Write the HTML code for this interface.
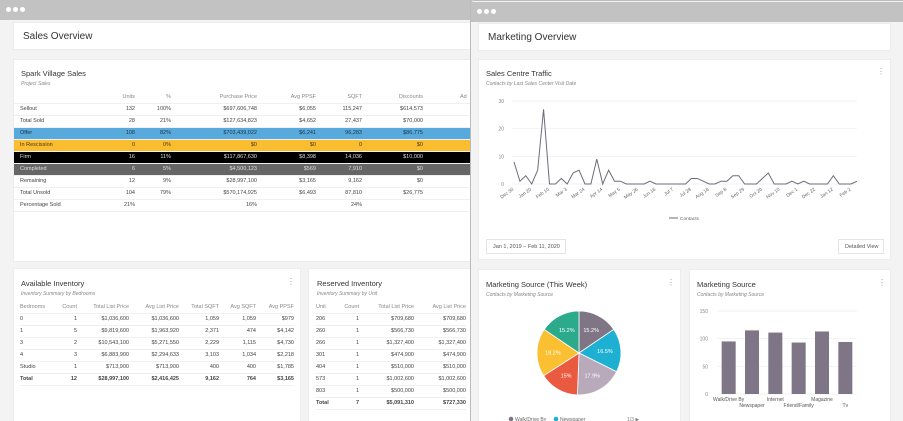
<!DOCTYPE html>
<html><head><meta charset="utf-8"><style>
*{box-sizing:border-box;margin:0;padding:0}
body{width:903px;height:421px;overflow:hidden;background:#fff;font-family:"Liberation Sans",sans-serif;position:relative;color:#333}
.win{position:absolute;background:#f3f3f3;overflow:hidden}
.bar{position:absolute;left:0;right:0;top:0;height:20px;background:#c2c2c2}
.dot{position:absolute;top:7px;width:5px;height:5px;border-radius:50%;background:#fff}
.card{position:absolute;background:#fff;border:1px solid #ececec;overflow:hidden}
.abs{position:absolute;white-space:nowrap}
.t{font-size:7.5px;color:#333}
.s{font-size:5px;color:#888;font-style:italic}
.h{font-size:10px;color:#333}
table{position:absolute;border-collapse:collapse;font-size:5.5px;color:#444;table-layout:fixed}
td,th{height:12px;padding:0;font-weight:normal;white-space:nowrap;overflow:visible;border-bottom:1px solid #f0f0f0}
th{color:#888}
.r{text-align:right}
.keb{position:absolute;font-size:8px;color:#999}
</style></head><body>

<div class="win" style="left:0;top:0;width:472px;height:421px">
 <div class="bar"></div>
 <div class="dot" style="left:6px"></div><div class="dot" style="left:13px"></div><div class="dot" style="left:20px"></div>
 <div class="card" style="left:13px;top:22px;width:470px;height:28px"><div class="abs h" style="left:9px;top:8px">Sales Overview</div></div>
 <div class="card" style="left:13px;top:59px;width:470px;height:203px">
  <div class="abs t" style="left:7px;top:9px">Spark Village Sales</div>
  <div class="abs s" style="left:7px;top:21px">Project Sales</div>
  <table style="left:0px;top:31px;width:469px">
   <colgroup><col style="width:6px"><col style="width:75px"><col style="width:40px"><col style="width:36px"><col style="width:86px"><col style="width:59px"><col style="width:46px"><col style="width:61px"><col style="width:60px"></colgroup>
   <tr><th></th><th></th><th class="r">Units</th><th class="r">%</th><th class="r">Purchase Price</th><th class="r">Avg PPSF</th><th class="r">SQFT</th><th class="r">Discounts</th><th style="text-align:left;padding-left:37px">Ad</th></tr>
   <tr><td></td><td>Sellout</td><td class="r">132</td><td class="r">100%</td><td class="r">$697,606,748</td><td class="r">$6,055</td><td class="r">115,247</td><td class="r">$614,573</td><td></td></tr>
   <tr><td></td><td>Total Sold</td><td class="r">28</td><td class="r">21%</td><td class="r">$127,634,823</td><td class="r">$4,652</td><td class="r">27,437</td><td class="r">$70,000</td><td></td></tr>
   <tr style="background:#58a9dc;color:#234"><td></td><td>Offer</td><td class="r">108</td><td class="r">82%</td><td class="r">$703,439,022</td><td class="r">$6,241</td><td class="r">96,283</td><td class="r">$86,775</td><td></td></tr>
   <tr style="background:#fbbd30;color:#432"><td></td><td>In Rescission</td><td class="r">0</td><td class="r">0%</td><td class="r">$0</td><td class="r">$0</td><td class="r">0</td><td class="r">$0</td><td></td></tr>
   <tr style="background:#000;color:#ddd"><td></td><td>Firm</td><td class="r">16</td><td class="r">11%</td><td class="r">$117,867,630</td><td class="r">$8,398</td><td class="r">14,036</td><td class="r">$10,000</td><td></td></tr>
   <tr style="background:#666;color:#ddd"><td></td><td>Completed</td><td class="r">6</td><td class="r">5%</td><td class="r">$4,500,123</td><td class="r">$569</td><td class="r">7,910</td><td class="r">$0</td><td></td></tr>
   <tr><td></td><td>Remaining</td><td class="r">12</td><td class="r">9%</td><td class="r">$28,997,100</td><td class="r">$3,165</td><td class="r">9,162</td><td class="r">$0</td><td></td></tr>
   <tr><td></td><td>Total Unsold</td><td class="r">104</td><td class="r">79%</td><td class="r">$570,174,925</td><td class="r">$6,493</td><td class="r">87,810</td><td class="r">$26,775</td><td></td></tr>
   <tr><td></td><td>Percentage Sold</td><td class="r">21%</td><td></td><td class="r">16%</td><td></td><td class="r">24%</td><td></td><td></td></tr>
  </table>
 </div>
 <div class="card" style="left:13px;top:268px;width:288px;height:160px">
  <div class="abs t" style="left:7px;top:10px">Available Inventory</div>
  <div class="keb" style="left:273px;top:8px">⋮</div>
  <div class="abs s" style="left:7px;top:22px">Inventory Summary by Bedrooms</div>
  <table style="left:6px;top:32px;width:274px">
   <colgroup><col style="width:30px"><col style="width:27px"><col style="width:52px"><col style="width:50px"><col style="width:40px"><col style="width:37px"><col style="width:38px"></colgroup>
   <tr><th style="text-align:left">Bedrooms</th><th class="r">Count</th><th class="r">Total List Price</th><th class="r">Avg List Price</th><th class="r">Total SQFT</th><th class="r">Avg SQFT</th><th class="r">Avg PPSF</th></tr>
   <tr><td>0</td><td class="r">1</td><td class="r">$1,036,600</td><td class="r">$1,036,600</td><td class="r">1,059</td><td class="r">1,059</td><td class="r">$979</td></tr>
   <tr><td>1</td><td class="r">5</td><td class="r">$9,819,600</td><td class="r">$1,963,920</td><td class="r">2,371</td><td class="r">474</td><td class="r">$4,142</td></tr>
   <tr><td>3</td><td class="r">2</td><td class="r">$10,543,100</td><td class="r">$5,271,550</td><td class="r">2,229</td><td class="r">1,115</td><td class="r">$4,730</td></tr>
   <tr><td>4</td><td class="r">3</td><td class="r">$6,883,900</td><td class="r">$2,294,633</td><td class="r">3,103</td><td class="r">1,034</td><td class="r">$2,218</td></tr>
   <tr><td>Studio</td><td class="r">1</td><td class="r">$713,900</td><td class="r">$713,900</td><td class="r">400</td><td class="r">400</td><td class="r">$1,785</td></tr>
   <tr><td><b>Total</b></td><td class="r"><b>12</b></td><td class="r"><b>$28,997,100</b></td><td class="r"><b>$2,416,425</b></td><td class="r"><b>9,162</b></td><td class="r"><b>764</b></td><td class="r"><b>$3,165</b></td></tr>
  </table>
 </div>
 <div class="card" style="left:308px;top:268px;width:180px;height:160px">
  <div class="abs t" style="left:8px;top:10px">Reserved Inventory</div>
  <div class="abs s" style="left:8px;top:22px">Inventory Summary by Unit</div>
  <table style="left:7px;top:32px;width:150px">
   <colgroup><col style="width:20px"><col style="width:23px"><col style="width:55px"><col style="width:52px"></colgroup>
   <tr><th style="text-align:left">Unit</th><th class="r">Count</th><th class="r">Total List Price</th><th class="r">Avg List Price</th></tr>
   <tr><td>206</td><td class="r">1</td><td class="r">$709,680</td><td class="r">$709,680</td></tr>
   <tr><td>260</td><td class="r">1</td><td class="r">$566,730</td><td class="r">$566,730</td></tr>
   <tr><td>266</td><td class="r">1</td><td class="r">$1,327,400</td><td class="r">$1,327,400</td></tr>
   <tr><td>301</td><td class="r">1</td><td class="r">$474,900</td><td class="r">$474,900</td></tr>
   <tr><td>404</td><td class="r">1</td><td class="r">$510,000</td><td class="r">$510,000</td></tr>
   <tr><td>573</td><td class="r">1</td><td class="r">$1,002,600</td><td class="r">$1,002,600</td></tr>
   <tr><td>803</td><td class="r">1</td><td class="r">$500,000</td><td class="r">$500,000</td></tr>
   <tr><td><b>Total</b></td><td class="r"><b>7</b></td><td class="r"><b>$5,091,310</b></td><td class="r"><b>$727,330</b></td></tr>
  </table>
 </div>
</div>

<div class="win" style="left:470px;top:0;width:433px;height:421px;border-left:1px solid #bbb;border-top:1px solid #bbb;border-radius:4px 0 0 0">
 <div class="bar" style="top:1px"></div>
 <div class="dot" style="left:6px;top:8px"></div><div class="dot" style="left:13px;top:8px"></div><div class="dot" style="left:20px;top:8px"></div>
 <div class="card" style="left:7px;top:22px;width:413px;height:28px"><div class="abs h" style="left:9px;top:8px">Marketing Overview</div></div>
 <div class="card" style="left:7px;top:58px;width:413px;height:201px">
  <div class="abs t" style="left:7px;top:9px">Sales Centre Traffic</div>
  <div class="keb" style="left:398px;top:7px">⋮</div>
  <div class="abs s" style="left:7px;top:21px">Contacts by Last Sales Center Visit Date</div>
  <div class="abs" style="left:7px;top:179px;width:80px;height:15px;border:1px solid #e4e4e4;font-size:5.5px;color:#555;padding:4px 0 0 6px">Jan 1, 2019 – Feb 11, 2020</div>
  <div class="abs" style="left:359px;top:179px;width:46px;height:15px;border:1px solid #e4e4e4;font-size:5.5px;color:#555;padding:4px 0 0 6px">Detailed View</div>
 </div>
 <div class="card" style="left:7px;top:268px;width:203px;height:160px">
  <div class="abs t" style="left:7px;top:10px">Marketing Source (This Week)</div>
  <div class="keb" style="left:188px;top:8px">⋮</div>
  <div class="abs s" style="left:7px;top:22px">Contacts by Marketing Source</div>
 </div>
 <div class="card" style="left:218px;top:268px;width:202px;height:160px">
  <div class="abs t" style="left:7px;top:10px">Marketing Source</div>
  <div class="keb" style="left:188px;top:8px">⋮</div>
  <div class="abs s" style="left:7px;top:22px">Contacts by Marketing Source</div>
 </div>
</div>

<svg id="charts" width="903" height="421" style="position:absolute;left:0;top:0" font-family="Liberation Sans, sans-serif"></svg>

<script>
const lineValues=[8,1,3,0,5,27,0,0,2,0,4,5,0,0,9,0,5,1,1,0,0,0,0,1,0,0,0,0,0,0,2,2,1,0,0,1,1,3,3,0,0,0,2,4,0,0,0,1,0,1,0,0,0,0,3,0,0,0,1];
const lineTicks=[0,10,20,30];
const dateLabels=["Dec 30","Jan 20","Feb 10","Mar 3","Mar 24","Apr 14","May 5","May 26","Jun 16","Jul 7","Jul 28","Aug 18","Sep 8","Sep 29","Oct 20","Nov 10","Dec 1","Dec 22","Jan 12","Feb 2"];
const pieLabels=["Walk/Drive By","Newspaper","Internet","Friend/Family","Magazine","Tv"];
const pieValues=[15.2,16.5,17.9,15,18.2,15.2];
const pieColors=["#7f7585","#1eb0d2","#b8a9bb","#ea5a41","#fbbf32","#2baa8c"];
const barCategories=["Walk/Drive By","Newspaper","Internet","Friend/Family","Magazine","Tv"];
const barValues=[95,115,111,93,113,94];
const barTicks=[0,50,100,150];

const svg=document.getElementById('charts');
const NS='http://www.w3.org/2000/svg';
function mk(tag,attrs,parent){const e=document.createElementNS(NS,tag);for(const k in attrs)e.setAttribute(k,attrs[k]);(parent||svg).appendChild(e);return e;}

const lx0=514,lx1=857,ly0=184,ly1=101;
const lxs=i=>lx0+(lx1-lx0)*i/(lineValues.length-1);
const lys=v=>ly0-(ly0-ly1)*v/30;
lineTicks.forEach(t=>{
 const g=mk('line',{x1:lx0-2,x2:lx1,y1:lys(t),y2:lys(t),stroke:'#eee','stroke-width':0.7});
 
 
 const tx=mk('text',{x:lx0-10,y:lys(t)+2,'font-size':5,fill:'#888','text-anchor':'end'});tx.textContent=t;
 
 
});
dateLabels.forEach((d,i)=>{
 const x=lxs(i*3);
 const tx=mk('text',{x:x,y:ly0+6,'font-size':4.8,fill:'#666','text-anchor':'end',transform:`rotate(-35 ${x} ${ly0+6})`});tx.textContent=d;
 
 
});
const pl=mk('polyline',{points:lineValues.map((v,i)=>lxs(i)+','+lys(v)).join(' '),fill:'none',stroke:'#6f6a7a','stroke-width':1});


mk('line',{x1:669,x2:678,y1:218,y2:218,stroke:'#6f6a7a','stroke-width':1});
const lg=mk('text',{x:680,y:220,'font-size':4.8,fill:'#666'});lg.textContent='Contacts';



const cx=579,cy=353,R=42;
const tot=pieValues.reduce((a,b)=>a+b,0);
let a=-Math.PI/2;
pieValues.forEach((v,i)=>{
 const da=v/tot*2*Math.PI,a2=a+da;
 const p=mk('path',{d:`M${cx},${cy}L${cx+R*Math.cos(a)},${cy+R*Math.sin(a)}A${R},${R} 0 ${da>Math.PI?1:0} 1 ${cx+R*Math.cos(a2)},${cy+R*Math.sin(a2)}Z`,fill:pieColors[i],stroke:'#fff','stroke-width':0.8});
 
 
 const m=(a+a2)/2;
 const t=mk('text',{x:cx+R*0.62*Math.cos(m),y:cy+R*0.62*Math.sin(m)+2,'font-size':5.5,fill:'#fff','text-anchor':'middle'});t.textContent=(v%1?v.toFixed(1):v)+'%';
 
 
 a=a2;
});
[[0,511],[1,556]].forEach(([i,x])=>{
 mk('circle',{cx:x,cy:419,r:2.3,fill:pieColors[i]});
 const t=mk('text',{x:x+4,y:421,'font-size':5,fill:'#666'});t.textContent=pieLabels[i];
 
 
});
const pg=mk('text',{x:627,y:421,'font-size':5,fill:'#888'});pg.textContent='1/3 ▶';

const bx0=717,bx1=857,by0=394,by1=311;
const bys=v=>by0-(by0-by1)*v/150;
const bw=(bx1-bx0)/barValues.length;
barTicks.forEach(t=>{
 const g=mk('line',{x1:bx0,x2:bx1,y1:bys(t),y2:bys(t),stroke:'#eee','stroke-width':0.7});
 
 
 const tx=mk('text',{x:bx0-9,y:bys(t)+2,'font-size':5,fill:'#888','text-anchor':'end'});tx.textContent=t;
 
 
});
barValues.forEach((v,i)=>{
 const xc=bx0+bw*(i+0.5);
 const r=mk('rect',{x:xc-7,y:bys(v),width:14,height:by0-bys(v),fill:'#7e7586'});
 
 
 const t=mk('text',{x:xc,y:i%2?by0+13:by0+7,'font-size':5,fill:'#555','text-anchor':'middle'});t.textContent=barCategories[i];
 
 
});
</script>
</body></html>
